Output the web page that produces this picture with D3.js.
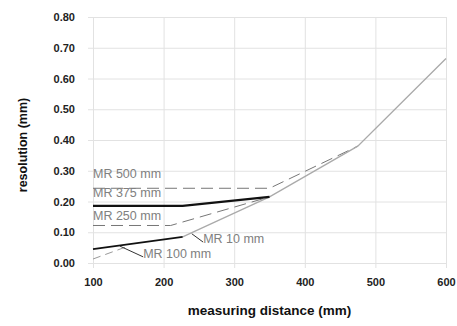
<!DOCTYPE html>
<html>
<head>
<meta charset="utf-8">
<script src="https://cdn.jsdelivr.net/npm/d3@7"></script>
<style>
  body { margin: 0; background: #fff; }
  svg { font-family: "Liberation Sans", Arial, sans-serif; }
  .grid line { stroke: #e2e2e2; }
  .grid path { display: none; }
  .axis path, .axis line { display: none; }
  .axis text { font-size: 11px; font-weight: bold; fill: #222; }
</style>
</head>
<body>
<div id="chart"></div>
<script>
// x ticks and y ticks
const xTicks = [100, 200, 300, 400, 500, 600];
const yTicks = [0, 0.1, 0.2, 0.3, 0.4, 0.5, 0.6, 0.7, 0.8];

// series (distance mm, resolution mm)
const mr500 = [[100, 0.243], [350, 0.243], [475, 0.38]];
const mr375 = [[100, 0.186], [227, 0.186], [350, 0.215]];
const mr250 = [[100, 0.122], [210, 0.122], [350, 0.215]];
const mr100 = [[100, 0.045], [227, 0.085]];
const mr10Lead = [[100, 0.013], [150, 0.055]];
const mr10 = [[227, 0.085], [350, 0.215], [475, 0.38], [600, 0.665]];

// label text and where it sits (data coords)
const labels = [
  { text: "MR 500 mm", x: 100, y: 0.276 },
  { text: "MR 375 mm", x: 100, y: 0.215 },
  { text: "MR 250 mm", x: 100, y: 0.14 },
  { text: "MR 100 mm", x: 171, y: 0.016 },
  { text: "MR 10 mm", x: 256, y: 0.065 }
];
// callout strokes
const callouts = [
  [[138, 0.055], [171, 0.02]],
  [[240, 0.095], [256, 0.068]]
];

const margin = { top: 17, right: 11, bottom: 63, left: 93 };
const W = 457, H = 326;
const width = W - margin.left - margin.right;
const height = H - margin.top - margin.bottom;

const svg = d3.select("#chart").append("svg")
  .attr("width", W).attr("height", H)
  .append("g")
  .attr("transform", "translate(" + margin.left + "," + margin.top + ")");

const x = d3.scaleLinear().domain([100, 600]).range([0, width]);
const y = d3.scaleLinear().domain([0, 0.8]).range([height, 0]);

// grid
svg.append("g").attr("class", "grid")
  .attr("transform", "translate(0," + (height + 5) + ")")
  .call(d3.axisBottom(x).tickValues(xTicks).tickSize(-(height + 5)).tickFormat(""));
svg.append("g").attr("class", "grid")
  .attr("transform", "translate(-5,0)")
  .call(d3.axisLeft(y).tickValues(yTicks).tickSize(-(width + 5)).tickFormat(""));

// axes
svg.append("g").attr("class", "axis")
  .attr("transform", "translate(0," + height + ")")
  .call(d3.axisBottom(x).tickValues(xTicks).tickSize(0).tickPadding(15).tickFormat(d3.format("d")));
svg.append("g").attr("class", "axis")
  .call(d3.axisLeft(y).tickValues(yTicks).tickSize(0).tickPadding(18).tickFormat(d3.format(".2f")));

const line = d3.line().x(d => x(d[0])).y(d => y(d[1]));

function draw(data, color, w, dash) {
  svg.append("path").datum(data)
    .attr("d", line)
    .attr("fill", "none")
    .attr("stroke", color)
    .attr("stroke-width", w)
    .attr("stroke-dasharray", dash || null);
}

draw(mr500, "#777", 1, "12,6");
draw(mr250, "#777", 1, "12,6");
draw(mr10Lead, "#999", 1, "8,5");
draw(mr10, "#aaa", 1.3);
draw(mr375, "#111", 2.2);
draw(mr100, "#111", 1.8);

callouts.forEach(c => draw(c, "#333", 1));

svg.selectAll(".lbl").data(labels).enter().append("text")
  .attr("x", d => x(d.x))
  .attr("y", d => y(d.y))
  .attr("font-size", "12.5px")
  .attr("fill", "#808080")
  .text(d => d.text);

// axis titles
svg.append("text")
  .attr("x", width / 2)
  .attr("y", height + 52)
  .attr("text-anchor", "middle")
  .attr("font-size", "13.5px")
  .attr("font-weight", "bold")
  .attr("fill", "#111")
  .text("measuring distance (mm)");
svg.append("text")
  .attr("transform", "translate(-66," + (height / 2 + 5) + ") rotate(-90)")
  .attr("text-anchor", "middle")
  .attr("font-size", "12.5px")
  .attr("font-weight", "bold")
  .attr("fill", "#111")
  .text("resolution (mm)");
</script>
</body>
</html>
